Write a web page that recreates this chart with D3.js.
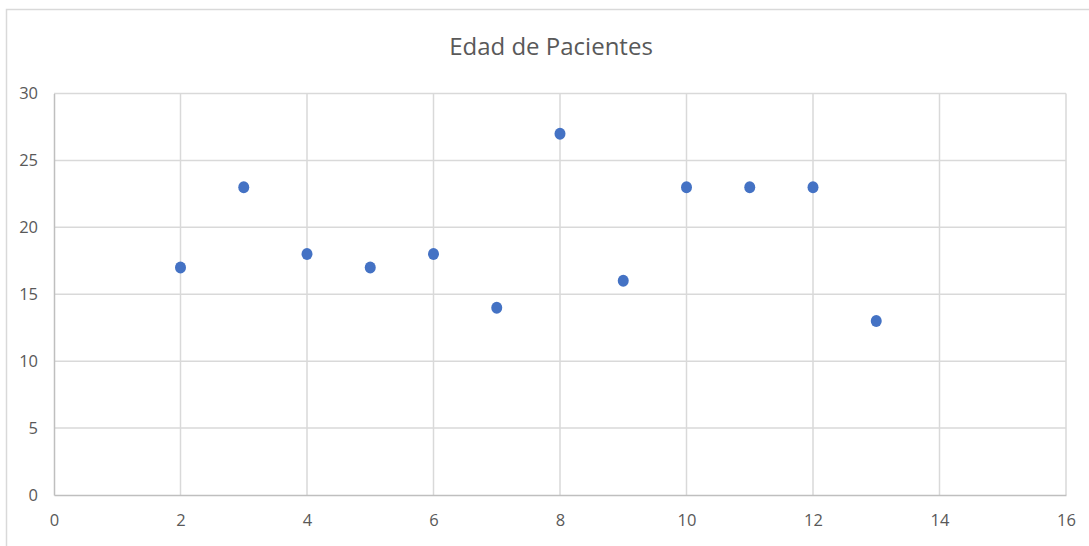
<!DOCTYPE html>
<html>
<head>
<meta charset="utf-8">
<script src="https://cdn.jsdelivr.net/npm/d3@7"></script>
<style>
  body { margin: 0; background: #fff; }
  text { font-family: "Open Sans", "Noto Sans", sans-serif; fill: #595959; }
</style>
</head>
<body>
<script>
const title = "Edad de Pacientes";
const pacientes = [2, 3, 4, 5, 6, 7, 8, 9, 10, 11, 12, 13];
const edades = [17, 23, 18, 17, 18, 14, 27, 16, 23, 23, 23, 13];
const xTicks = [0, 2, 4, 6, 8, 10, 12, 14, 16];
const yTicks = [0, 5, 10, 15, 20, 25, 30];

const width = 1089, height = 546;
const margin = { left: 54, right: 23, top: 93.5, bottom: 51 };

const svg = d3.select("body")
	.append("svg")
	.attr("width", width)
	.attr("height", height);

// outer chart frame (cut off at right and bottom)
svg.append("rect")
	.attr("x", 6.5)
	.attr("y", 9.5)
	.attr("width", 1100)
	.attr("height", 560)
	.attr("fill", "none")
	.attr("stroke", "#d9d9d9")
	.attr("stroke-width", 1.5);

const x = d3.scaleLinear().domain([0, 16]).range([margin.left, width - margin.right]);
const y = d3.scaleLinear().domain([0, 30]).range([height - margin.bottom, margin.top]);

// grid
svg.append("g")
	.selectAll("line")
	.data(xTicks.slice(1))
	.enter()
	.append("line")
	.attr("x1", (d) => x(d))
	.attr("x2", (d) => x(d))
	.attr("y1", y(0))
	.attr("y2", y(30))
	.attr("stroke", "#d9d9d9")
	.attr("stroke-width", 1.5);

svg.append("g")
	.selectAll("line")
	.data(yTicks.slice(1))
	.enter()
	.append("line")
	.attr("x1", x(0))
	.attr("x2", x(16))
	.attr("y1", (d) => y(d))
	.attr("y2", (d) => y(d))
	.attr("stroke", "#d9d9d9")
	.attr("stroke-width", 1.5);

// axes
const xAxis = svg.append("g")
	.attr("transform", `translate(0,${y(0)})`)
	.call(d3.axisBottom(x).tickValues(xTicks).tickSize(0).tickPadding(19));
const yAxis = svg.append("g")
	.attr("transform", `translate(${x(0)},0)`)
	.call(d3.axisLeft(y).tickValues(yTicks).tickSize(0).tickPadding(16));

[xAxis, yAxis].forEach((a) => {
	a.select(".domain").attr("stroke", "#bfbfbf").attr("stroke-width", 1.5);
	a.selectAll("text")
		.attr("fill", "#595959")
		.style("font-size", "16.5px")
		.style("font-family", '"Open Sans", sans-serif');
});

// title
svg.append("text")
	.attr("x", 551)
	.attr("y", 55)
	.attr("text-anchor", "middle")
	.style("font-size", "24px")
	.text(title);

// points
svg.append("g")
	.selectAll("ellipse")
	.data(pacientes.map((p, i) => ({ p, e: edades[i] })))
	.enter()
	.append("ellipse")
	.attr("cx", (d) => x(d.p))
	.attr("cy", (d) => y(d.e))
	.attr("rx", 5.5)
	.attr("ry", 6)
	.attr("fill", "#4472c4");
</script>
</body>
</html>
